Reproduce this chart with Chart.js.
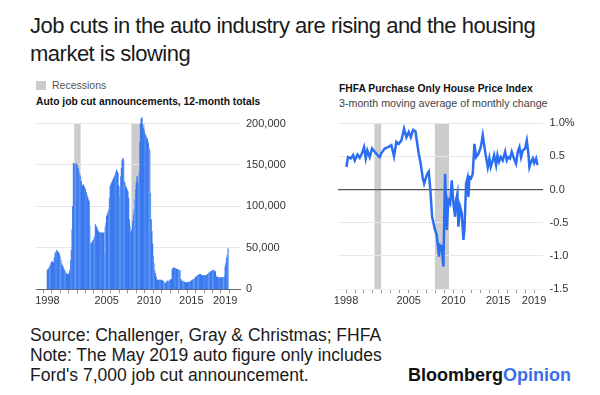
<!DOCTYPE html>
<html><head><meta charset="utf-8">
<script src="https://cdn.jsdelivr.net/npm/chart.js@4"></script>
<style>
html,body{margin:0;padding:0;background:#fff;}
body{width:600px;height:395px;position:relative;overflow:hidden;font-family:"Liberation Sans",Arial,sans-serif;color:#1a1a1a;}
.t{position:absolute;white-space:nowrap;}
#title{left:30px;top:12px;font-size:22px;line-height:27.6px;letter-spacing:-0.5px;color:#1a1a1a;}
#legbox{position:absolute;left:36px;top:81px;width:10px;height:9px;background:#cccccc;}
#legtxt{left:52px;top:78.8px;font-size:10.5px;line-height:12px;color:#555;}
#lsub{left:36px;top:96.4px;font-size:10.3px;line-height:12px;font-weight:bold;color:#111;}
#rtitle{left:339px;top:83.1px;font-size:10.3px;line-height:12px;font-weight:bold;color:#111;}
#rsub{left:339px;top:96.8px;font-size:10.7px;line-height:12px;color:#444;}
#source{left:30px;top:326px;font-size:17.5px;line-height:19.85px;color:#1a1a1a;}
#logo{left:408px;top:365px;font-size:18px;line-height:20px;font-weight:bold;color:#111;}
#logo span{color:#3b6fe8;}
canvas{position:absolute;}
#c1{left:0;top:100px;}
#c2{left:300px;top:100px;}
</style>
</head>
<body>
<div class="t" id="title">Job cuts in the auto industry are rising and the housing<br>market is slowing</div>
<div id="legbox"></div>
<div class="t" id="legtxt">Recessions</div>
<div class="t" id="lsub">Auto job cut announcements, 12-month totals</div>
<div class="t" id="rtitle">FHFA Purchase Only House Price Index</div>
<div class="t" id="rsub">3-month moving average of monthly change</div>
<div class="t" id="source">Source: Challenger, Gray &amp; Christmas; FHFA<br>Note: The May 2019 auto figure only includes<br>Ford's 7,000 job cut announcement.</div>
<div class="t" id="logo">Bloomberg<span>Opinion</span></div>
<canvas id="c1" width="300" height="215"></canvas>
<canvas id="c2" width="300" height="215"></canvas>
<script>
// ---------- DATA ----------
const recessionStarts = [2001.17, 2007.92];
const recessionEnds   = [2001.92, 2009.5];

const tickYears  = [1998,1999,2000,2001,2002,2003,2004,2005,2006,2007,2008,2009,2010,2011,2012,2013,2014,2015,2016,2017,2018,2019];
const labelYears = [1998, 2005, 2010, 2015, 2019];

// Auto job cut announcements, 12-month totals (thousands), monthly from Jan 1998 to May 2019
const autoStartYear = 1998;
const autoCutsThousands = [
  23,24,25,27,29,31,33,33,32,32,38,43,          // 1998
  45,47,46,45,44,42,39,35,31,29,27,25,          // 1999
  23,22,20,19,18,17,18,20,23,35,47,72,          // 2000
  100,152,150,151,150,152,150,146,144,140,138,136, // 2001
  130,124,125,126,124,122,120,117,114,111,108,106, // 2002
  76,55,54,56,57,59,61,64,78,76,74,72,          // 2003
  70,69,68,68,67,68,68,67,68,43,75,80,          // 2004
  88,90,93,96,110,124,126,128,130,132,134,136,  // 2005
  138,141,144,142,140,125,112,122,136,146,156,158, // 2006
  155,130,128,124,122,120,118,110,84,76,68,70,  // 2007
  72,82,90,96,108,120,128,136,130,126,140,178,  // 2008
  200,205,207,198,194,192,188,186,184,182,180,176, // 2009
  170,168,116,84,70,55,40,31,23,19,15,11,       // 2010
  11,11,10,11,11,10,11,10,10,9,8,7,             // 2011
  7,9,10,10,9,10,11,12,11,24,25,26,             // 2012
  26,25,25,24,24,24,23,22,23,12,10,10,          // 2013
  10,9,9,8,8,8,8,8,8,9,9,9,                     // 2014
  10,11,11,12,12,13,14,15,16,17,17,18,          // 2015
  18,18,17,16,16,17,16,17,17,16,17,18,          // 2016
  19,20,20,21,21,22,23,23,23,22,21,16,          // 2017
  15,14,14,14,14,13,14,14,14,14,14,15,          // 2018
  27,31,38,41,49                                // 2019
];
const autoTicks = [0, 50000, 100000, 150000, 200000];

// FHFA purchase-only HPI, 3-month moving average of monthly change (%)
const hpiDates = [
  1998.04,1998.22,1998.52,1998.78,1998.97,1999.27,1999.53,1999.79,2000.01,2000.2,
  2000.38,2000.64,2000.9,2001.2,2001.5,2001.76,2001.95,2002.32,2002.69,2003.06,
  2003.36,2003.62,2003.88,2004.18,2004.48,2004.74,2005.0,2005.23,2005.49,2005.75,
  2005.9,2006.12,2006.34,2006.57,2006.72,2006.9,2007.09,2007.24,2007.42,2007.61,
  2007.91,2008.13,2008.39,2008.5,2008.69,2008.87,2009.06,2009.25,2009.43,2009.62,
  2009.81,2009.99,2010.18,2010.29,2010.44,2010.55,2010.74,2010.92,2011.11,2011.22,
  2011.41,2011.56,2011.67,2011.78,2011.97,2012.15,2012.34,2012.53,2012.79,2013.05,
  2013.27,2013.46,2013.64,2013.83,2014.01,2014.16,2014.39,2014.54,2014.76,2014.91,
  2015.09,2015.28,2015.5,2015.77,2015.95,2016.14,2016.32,2016.51,2016.7,2016.99,
  2017.18,2017.37,2017.55,2017.74,2018.0,2018.19,2018.37,2018.48,2018.67,2018.86,
  2019.01,2019.23,2019.38
];
const hpiValues = [
  0.34,0.49,0.47,0.52,0.44,0.53,0.48,0.55,0.64,0.47,
  0.59,0.49,0.62,0.57,0.52,0.49,0.55,0.62,0.64,0.67,
  0.50,0.72,0.69,0.74,0.92,0.79,0.87,0.79,0.90,0.88,
  0.74,0.54,0.39,0.17,0.09,0.17,0.24,0.27,-0.01,-0.41,
  -0.59,-0.69,-1.01,-0.84,-0.86,-1.16,0.24,-0.61,-0.16,-0.21,
  0.14,-0.21,-0.41,-0.16,-0.06,-0.56,-0.26,-0.36,-0.76,-0.61,
  0.09,0.17,-0.11,0.19,0.17,0.24,0.69,0.49,0.54,0.64,
  0.82,0.64,0.49,0.34,0.47,0.34,0.44,0.52,0.37,0.52,
  0.42,0.49,0.44,0.57,0.44,0.49,0.47,0.57,0.49,0.39,
  0.57,0.64,0.49,0.59,0.62,0.74,0.54,0.34,0.42,0.47,
  0.40,0.47,0.37
];
const hpiTicks = [-1.5, -1.0, -0.5, 0.0, 0.5, 1.0];

// ---------- STYLE ----------
const FONT = '"Liberation Sans", Arial, sans-serif';
const barShades = ['#3a78ee', '#5690f3', '#3a78ee', '#3a78ee', '#4b87f1', '#3a78ee', '#5f96f4'];

// ---------- CHARTS ----------
const recessionPlugin = {
  id: 'recessions',
  beforeDraw(chart, args, opts) {
    const {ctx, scales: {x, y}} = chart;
    const top = y.getPixelForValue(opts.top), bottom = y.getPixelForValue(opts.bottom);
    ctx.save();
    ctx.fillStyle = opts.color;
    for (let i = 0; i < recessionStarts.length; i++) {
      const x0 = x.getPixelForValue(recessionStarts[i]);
      const x1 = x.getPixelForValue(recessionEnds[i]);
      ctx.fillRect(x0, top, x1 - x0, bottom - top);
    }
    ctx.restore();
  }
};

function xAxis(min, max, borderColor, height) {
  return {
    type: 'linear', min, max,
    afterBuildTicks: s => { s.ticks = tickYears.map(v => ({value: v})); },
    afterFit: s => { s.height = height; },
    ticks: {
      autoSkip: false, maxRotation: 0, padding: 1, color: '#333',
      font: {family: FONT, size: 11},
      callback: v => labelYears.includes(v) ? String(v) : ''
    },
    grid: {drawOnChartArea: false, drawTicks: true, tickLength: 4, tickColor: '#999', color: '#999'},
    border: {display: true, color: borderColor, width: 1}
  };
}

const autoData = autoCutsThousands.map((v, i) => ({x: autoStartYear + i / 12, y: v * 1000}));

new Chart(document.getElementById('c1'), {
  type: 'bar',
  data: {datasets: [{
    data: autoData,
    backgroundColor: c => barShades[Math.floor(c.dataIndex / 3) % barShades.length],
    borderWidth: 0,
    barPercentage: 1.0,
    categoryPercentage: 1.0
  }]},
  options: {
    responsive: false, animation: false, devicePixelRatio: 1,
    layout: {padding: {left: 36, top: 15.2, right: 0, bottom: 0}},
    plugins: {
      legend: {display: false}, tooltip: {enabled: false},
      recessions: {top: 200000, bottom: 0, color: '#cccccc'}
    },
    scales: {
      x: xAxis(1997.2, 2020.2, '#666', 25.7),
      y: {
        position: 'right', min: 0, max: 210000,
        afterBuildTicks: s => { s.ticks = autoTicks.map(v => ({value: v})); },
        afterFit: s => { s.width = 60; },
        ticks: {padding: 6, color: '#333', font: {family: FONT, size: 11},
          callback: v => v.toLocaleString('en-US')},
        grid: {drawTicks: false, color: c => c.tick && c.tick.value === 0 ? 'rgba(0,0,0,0)' : '#e8e8e8'},
        border: {display: false}
      }
    }
  },
  plugins: [recessionPlugin]
});

new Chart(document.getElementById('c2'), {
  type: 'line',
  data: {datasets: [{
    data: hpiDates.map((d, i) => ({x: d, y: hpiValues[i]})),
    borderColor: '#2b6ef2',
    borderWidth: 2.5,
    pointRadius: 0,
    tension: 0,
    fill: false
  }]},
  options: {
    responsive: false, animation: false, devicePixelRatio: 1,
    layout: {padding: {left: 38, top: 23.3, right: 0, bottom: 0}},
    plugins: {
      legend: {display: false}, tooltip: {enabled: false},
      recessions: {top: 1.0, bottom: -1.5, color: '#cccccc'}
    },
    scales: {
      x: xAxis(1997.1, 2020.0, '#eeeeee', 26),
      y: {
        position: 'right', min: -1.5, max: 1.0,
        afterBuildTicks: s => { s.ticks = hpiTicks.map(v => ({value: v})); },
        afterFit: s => { s.width = 57; },
        ticks: {padding: 6.5, color: '#333', font: {family: FONT, size: 11},
          callback: v => v === 1 ? '1.0%' : v.toFixed(1)},
        grid: {drawTicks: false,
          color: c => !c.tick ? '#e8e8e8' : (c.tick.value === 0 ? '#555' : (c.tick.value === -1.5 ? 'rgba(0,0,0,0)' : '#e8e8e8')),
          lineWidth: c => c.tick && c.tick.value === 0 ? 1.2 : 1},
        border: {display: false}
      }
    }
  },
  plugins: [recessionPlugin]
});
</script>
</body></html>
